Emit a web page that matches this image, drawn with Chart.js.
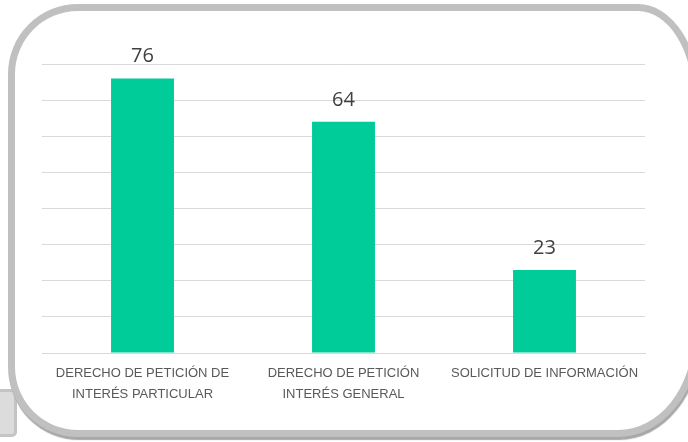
<!DOCTYPE html>
<html>
<head>
<meta charset="utf-8">
<script src="https://cdn.jsdelivr.net/npm/chart.js@4/dist/chart.umd.min.js"></script>
<style>
  html, body { margin: 0; padding: 0; background: #fff; }
  #wrap { position: relative; width: 688px; height: 442px; overflow: hidden; background: #fff; }
  #tab { position: absolute; left: -4px; top: 389px; width: 15px; height: 42px;
         background: #dcdcdc; border: 3px solid #c4c4c4; border-radius: 5px; }
  #frame { position: absolute; left: 8px; top: 4px; width: 678px; height: 419px;
           border: 7px solid #c0c0c0; background: #fff;
           border-radius: 70px 62px 82px 70px / 70px 95px 102px 70px;
           box-shadow: 1px 3px 1px #a8a8a8; }
  canvas { position: absolute; left: 0; top: 0; }
</style>
</head>
<body>
<div id="wrap">
  <div id="tab"></div>
  <div id="frame"></div>
  <canvas id="myChart" width="688" height="442"></canvas>
</div>
<script>
var labels = [
  ["DERECHO DE PETICIÓN DE", "INTERÉS PARTICULAR"],
  ["DERECHO DE PETICIÓN", "INTERÉS GENERAL"],
  "SOLICITUD DE INFORMACIÓN"
];
var values = [76, 64, 23];

// etiquetas de valor sobre cada barra
var valueLabels = {
  id: "valueLabels",
  afterDatasetsDraw: function(chart) {
    var ctx = chart.ctx;
    var meta = chart.getDatasetMeta(0);
    ctx.save();
    ctx.font = "20px 'Open Sans'";
    ctx.fillStyle = "#404040";
    ctx.textAlign = "center";
    ctx.textBaseline = "bottom";
    meta.data.forEach(function(bar, i) {
      ctx.fillText(values[i], bar.x, bar.y - 12);
    });
    ctx.restore();
  }
};

var ctx = document.getElementById("myChart").getContext("2d");
var myChart = new Chart(ctx, {
  type: "bar",
  data: {
    labels: labels,
    datasets: [{
      data: values,
      backgroundColor: "#00CC99",
      borderWidth: 0,
      categoryPercentage: 1,
      barPercentage: 0.313
    }]
  },
  options: {
    responsive: false,
    animation: false,
    events: [],
    layout: { padding: { left: 42, right: 43, top: 64, bottom: 0 } },
    plugins: { legend: { display: false }, tooltip: { enabled: false } },
    scales: {
      x: {
        grid: { display: false, drawTicks: false },
        border: { display: true, color: "#d9d9d9" },
        ticks: {
          color: "#595959",
          font: { family: "'Liberation Sans'", size: 13, lineHeight: 1.6 },
          padding: 10,
          maxRotation: 0,
          autoSkip: false
        },
        afterFit: function(scale) { scale.height = 89; }
      },
      y: {
        min: 0,
        max: 80,
        ticks: { display: false, stepSize: 10 },
        grid: { color: "#d9d9d9", drawTicks: false },
        border: { display: false },
        afterFit: function(scale) { scale.width = 0; }
      }
    }
  },
  plugins: [valueLabels]
});
</script>
</body>
</html>
